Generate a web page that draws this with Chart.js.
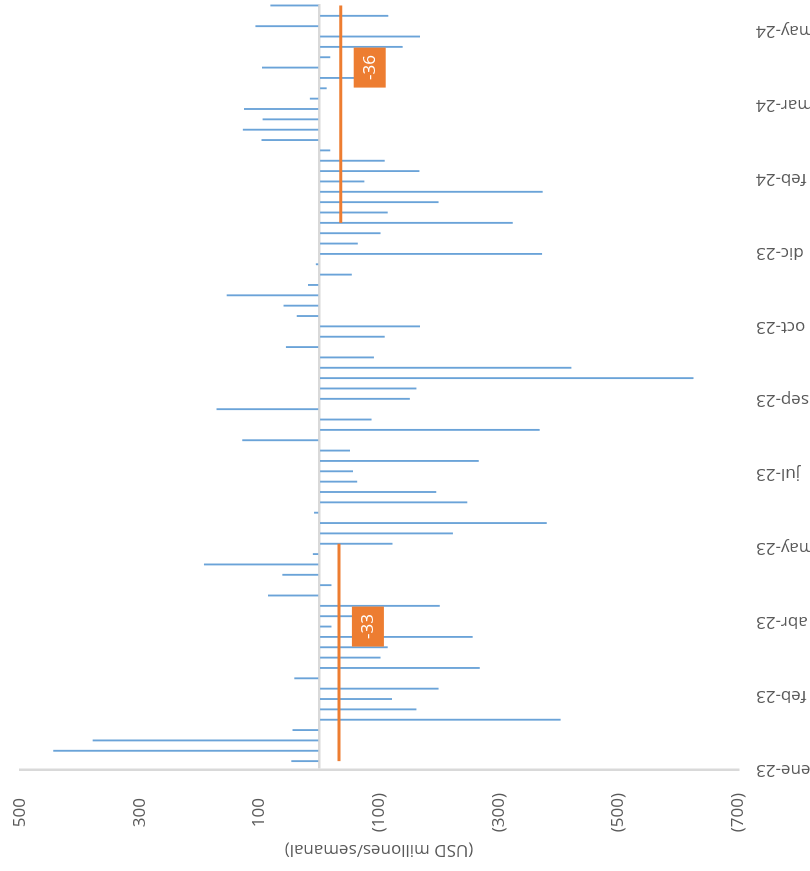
<!DOCTYPE html>
<html>
<head>
<meta charset="utf-8">
<script src="https://cdn.jsdelivr.net/npm/chart.js@4.4.1/dist/chart.umd.min.js"></script>
<style>
  html, body { margin: 0; padding: 0; background: #fff; }
  body { width: 810px; height: 871px; overflow: hidden; position: relative; }
  /* the chart is drawn upright (871x810) and then turned a quarter turn */
  #wrap { position: absolute; left: 0; top: 0; width: 871px; height: 810px;
          transform-origin: 0 0; transform: translate(0, 871px) rotate(-90deg); }
</style>
</head>
<body>
<div id="wrap"><canvas id="flows" width="871" height="810"></canvas></div>
<script>
// weekly flows, USD millones, first week of ene-23 to last week of may-24
var flows = [46, 444, 378, 44, -403, -162, -121, -199, 41, -268,
             -102, -114, -256, -20, -90, -201, 85, -20, 61, 192,
             10, -122, -223, -380, 8, -247, -195, -63, -56, -266,
             -51, 128, -368, -87, 171, -151, -162, -625, -421, -91,
             55, -109, -168, 37, 59, 154, 18, -54, 5, -372,
             -64, -102, -323, -114, -199, -373, -75, -167, -109, -18,
             96, 127, 94, 125, 15, -12, -80, 95, -18, -139,
             -168, 106, -115, 81];
var firstWeekDay = 6;   // days after 1-ene-23 of the first weekly bar
var lastAxisDay = 518;
var tickLabels = ['ene-23', 'feb-23', 'abr-23', 'may-23', 'jul-23', 'sep-23',
                  'oct-23', 'dic-23', 'feb-24', 'mar-24', 'may-24'];
var tickStep = 50;      // days between date labels
var valueTicks = [500, 300, 100, -100, -300, -500, -700];

// ene-may averages
var avgValues = [-33, -36];
var avgFrom = [0, 52];
var avgTo = [21, 73];
var avgLabelWeek = [13, 67];

var weekDays = flows.map(function(v, i) { return firstWeekDay + 7 * i; });

function fmt(v) {
   if (v === 0) return '';
   return v < 0 ? '(' + (-v) + ')' : String(v);
}

var avgLabels = {
   id: 'avgLabels',
   afterDatasetsDraw: function(chart) {
      var ctx = chart.ctx, xs = chart.scales.x, ys = chart.scales.y;
      for (var i = 0; i < avgValues.length; i++) {
         var px = xs.getPixelForValue(weekDays[avgLabelWeek[i]]);
         var py = ys.getPixelForValue(avgValues[i]);
         ctx.save();
         ctx.fillStyle = '#ED7D31';
         ctx.fillRect(px - 20, py + 13, 40, 32);
         ctx.fillStyle = '#ffffff';
         ctx.font = '17px "Open Sans"';
         ctx.textAlign = 'center';
         ctx.textBaseline = 'middle';
         ctx.fillText(String(avgValues[i]), px, py + 29);
         ctx.restore();
      }
   }
};

Chart.defaults.font.family = '"Open Sans", sans-serif';

var datasets = [];
for (var k = 0; k < avgValues.length; k++) {
   datasets.push({
      type: 'line',
      data: [{x: weekDays[avgFrom[k]], y: avgValues[k]}, {x: weekDays[avgTo[k]], y: avgValues[k]}],
      borderColor: '#ED7D31',
      borderWidth: 3,
      pointRadius: 0,
      fill: false,
      order: 0
   });
}
datasets.push({
   type: 'bar',
   data: flows.map(function(v, i) { return {x: weekDays[i], y: v}; }),
   backgroundColor: '#6AA3D8',
   barThickness: 1.2,
   order: 1
});

var flowChart = new Chart(document.getElementById('flows'), {
   type: 'bar',
   data: { datasets: datasets },
   options: {
      responsive: false,
      devicePixelRatio: 1,
      animation: false,
      layout: { padding: { top: 20, right: 4, bottom: 0, left: 0 } },
      plugins: { legend: { display: false }, tooltip: { enabled: false } },
      scales: {
         x: {
            type: 'linear',
            min: 0,
            max: lastAxisDay,
            offset: false,
            afterBuildTicks: function(s) {
               s.ticks = tickLabels.map(function(t, i) { return {value: i * tickStep}; });
            },
            afterFit: function(s) {
               s.height = 72;
               s.paddingLeft = 0; s.paddingRight = 0;
            },
            grid: { display: false, offset: false },
            border: { display: false },
            ticks: {
               autoSkip: false,
               minRotation: 90,
               maxRotation: 90,
               padding: 10,
               color: '#595959',
               font: { size: 17 },
               callback: function(v, i) { return tickLabels[i]; }
            }
         },
         y: {
            min: -700,
            max: 500,
            afterBuildTicks: function(s) {
               s.ticks = valueTicks.concat([0]).map(function(v) { return {value: v}; });
            },
            afterFit: function(s) {
               s.width = 101;
               s.paddingTop = 0; s.paddingBottom = 0;
            },
            grid: {
               color: function(c) { return c.tick && c.tick.value === 0 ? '#D9D9D9' : 'rgba(0,0,0,0)'; },
               lineWidth: 2.5,
               drawTicks: false
            },
            border: { display: true, color: '#D9D9D9', width: 2.5 },
            ticks: {
               padding: 23,
               crossAlign: 'center',
               color: '#595959',
               font: { size: 17 },
               callback: function(v) { return fmt(v); }
            },
            title: {
               display: true,
               text: '(USD millones/semanal)',
               color: '#595959',
               font: { size: 17 },
               padding: { top: 11, bottom: 0 }
            }
         }
      }
   },
   plugins: [avgLabels]
});
</script>
</body>
</html>
